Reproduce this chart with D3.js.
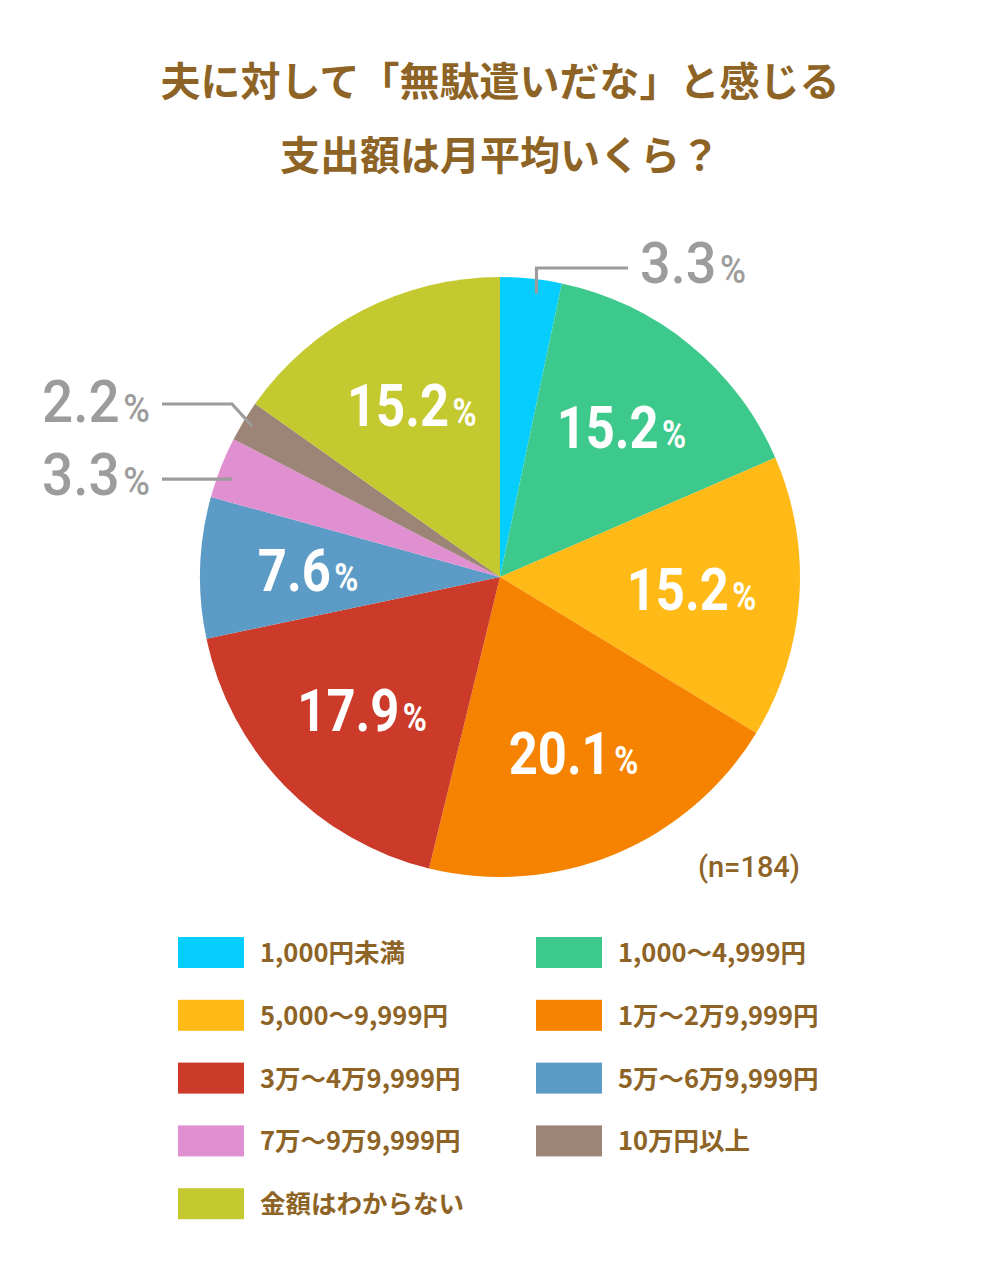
<!DOCTYPE html>
<html>
  <head>
    <meta charset="utf-8">
    <title>夫に対して「無駄遣いだな」と感じる支出額は月平均いくら？</title>
    <script src="https://cdnjs.cloudflare.com/ajax/libs/d3/7.8.5/d3.min.js"></script>
    <style>
      body { margin: 0; background-color: white }
      svg { display: block }
    </style>
  </head>
  <body>
    <div id="chart"></div>
  <script>
// data
var categories = ["1,000円未満", "1,000〜4,999円", "5,000〜9,999円", "1万〜2万9,999円",
                  "3万〜4万9,999円", "5万〜6万9,999円", "7万〜9万9,999円", "10万円以上", "金額はわからない"];
var values = [3.3, 15.2, 15.2, 20.1, 17.9, 7.6, 3.3, 2.2, 15.2];
var colors = ["#05cdfd", "#3ec98c", "#ffba17", "#f58300", "#cc3a29", "#5c9bc6", "#e08fd1", "#9c8576", "#c4c92f"];
var titleLines = ["夫に対して「無駄遣いだな」と感じる", "支出額は月平均いくら？"];
var sampleNote = "(n=184)";

var W = 1000, H = 1281;
var cx = 500, cy = 577, R = 300;
var brown = "#8d6326", grey = "#9c9c9c";

var svg = d3.select("#chart").append("svg")
    .attr("width", W)
    .attr("height", H);

// title
svg.selectAll("text.title")
    .data(titleLines)
  .enter().append("text")
    .attr("class", "title")
    .attr("x", W / 2)
    .attr("y", function(d, i){ return 96 + i * 74 })
    .attr("text-anchor", "middle")
    .style("font-family", "'Noto Sans CJK JP', sans-serif")
    .style("font-weight", 700)
    .style("font-size", "40px")
    .style("fill", brown)
    .text(function(d){ return d });

// pie
var pie = d3.pie().sort(null).value(function(d){ return d });
var arcs = pie(values);
var arc = d3.arc().innerRadius(0).outerRadius(R);
var labelArc = d3.arc().innerRadius(192).outerRadius(192);

var g = svg.append("g").attr("transform", "translate(" + cx + "," + cy + ")");

g.selectAll("path")
    .data(arcs)
  .enter().append("path")
    .attr("d", arc)
    .style("fill", function(d, i){ return colors[i] });

// labels inside the slices (the small ones go outside)
var outside = [0, 6, 7];

function pct(sel, big, small) {
    sel.append("tspan").style("font-size", big + "px").text(function(d){ return d.value.toFixed(1) });
    sel.append("tspan").attr("dx", 4).style("font-size", small + "px").text("%");
}

g.selectAll("text.inner")
    .data(arcs.filter(function(d, i){ return outside.indexOf(i) < 0 }))
  .enter().append("text")
    .attr("class", "inner")
    .attr("transform", function(d){
        var c = labelArc.centroid(d);
        return "translate(" + c[0] + "," + (c[1] + 20) + ") scale(0.86,1)";
    })
    .attr("text-anchor", "middle")
    .style("font-family", "Roboto, sans-serif")
    .style("font-weight", 700)
    .style("fill", "white")
    .call(pct, 59, 38);

// leader lines and labels for the small slices
function pointAt(d, r) {
    var a = (d.startAngle + d.endAngle) / 2;
    return [r * Math.sin(a), -r * Math.cos(a)];
}

var leaders = [
    { i: 0, path: function(d){ var s = pointAt(d, 285); s[0] += 7; return [s, [s[0], -309], [128, -309]] },
      tx: 140, ty: -294, anchor: "start", big: 58, small: 38 },
    { i: 7, path: function(d){ var s = pointAt(d, 290); return [s, [-268, -173], [-338, -173]] },
      tx: -350, ty: -155, anchor: "end", big: 59, small: 39 },
    { i: 6, path: function(d){ var s = pointAt(d, 268); var x = -Math.sqrt(285 * 285 - s[1] * s[1]);
                               return [[x, s[1]], [-338, s[1]]] },
      tx: -350, ty: -82, anchor: "end", big: 59, small: 39 }
];

var line = d3.line();

leaders.forEach(function(l){
    var d = arcs[l.i];
    g.append("path")
        .attr("d", line(l.path(d)))
        .style("fill", "none")
        .style("stroke", grey)
        .style("stroke-width", 3.2);
    g.append("text")
        .datum(d)
        .attr("transform", "translate(" + l.tx + "," + l.ty + ") scale(0.93,1)")
        .attr("text-anchor", l.anchor)
        .style("font-family", "Roboto, sans-serif")
        .style("font-weight", 500)
        .style("fill", grey)
        .call(pct, l.big, l.small);
});

// sample size
svg.append("text")
    .attr("x", 800)
    .attr("y", 877)
    .attr("text-anchor", "end")
    .style("font-family", "Roboto, sans-serif")
    .style("font-weight", 500)
    .style("font-size", "29px")
    .style("fill", brown)
    .text(sampleNote);

// legend, two columns
var colX = d3.scaleOrdinal().domain([0, 1]).range([178, 536]);
var rowY = d3.scaleLinear().domain([0, 4]).range([937, 937 + 4 * 62.8]);

var item = svg.selectAll("g.legend")
    .data(categories)
  .enter().append("g")
    .attr("class", "legend")
    .attr("transform", function(d, i){
        return "translate(" + colX(i % 2) + "," + rowY(Math.floor(i / 2)) + ")";
    });

item.append("rect")
    .attr("width", 66)
    .attr("height", 31)
    .style("fill", function(d, i){ return colors[i] });

item.append("text")
    .attr("x", 82)
    .attr("y", 25)
    .style("font-family", "'Noto Sans CJK JP', sans-serif")
    .style("font-weight", 700)
    .style("font-size", "25.5px")
    .style("fill", brown)
    .text(function(d){ return d });
  </script>
  </body>
</html>
